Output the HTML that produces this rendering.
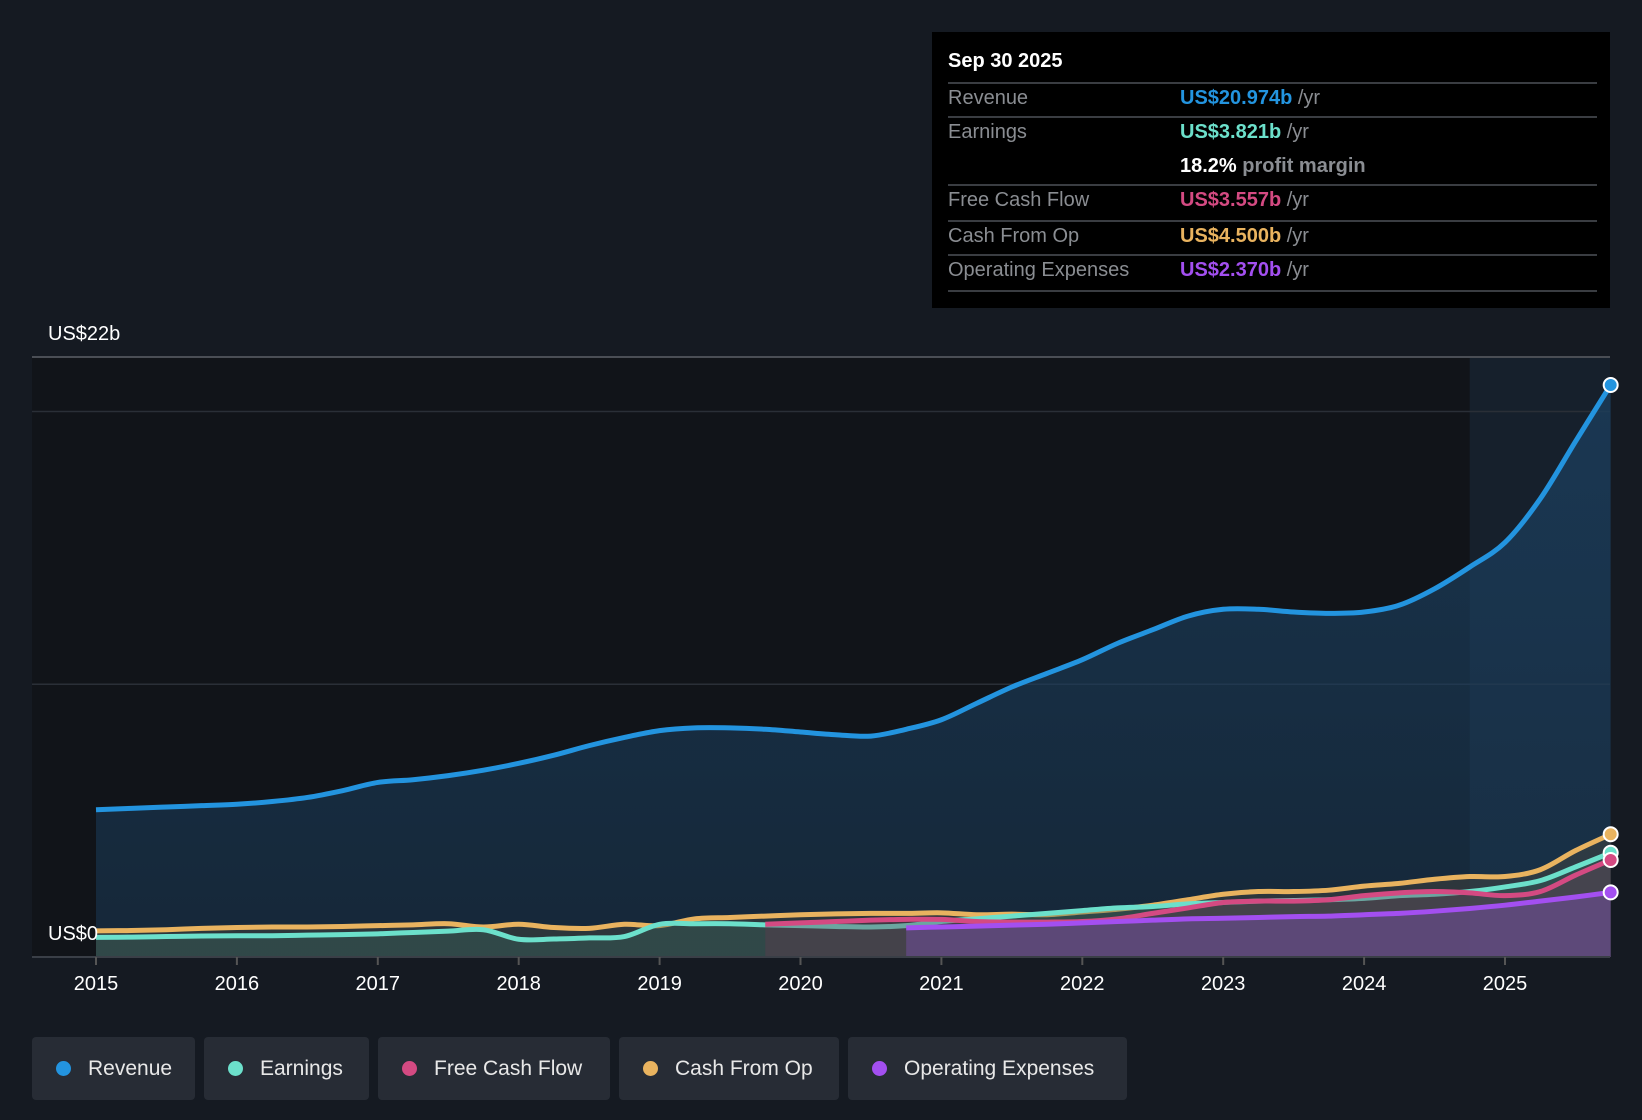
<!DOCTYPE html>
<html><head><meta charset="utf-8">
<style>
body{margin:0;background:#151a22;font-family:"Liberation Sans",sans-serif;}
#wrap{position:relative;width:1642px;height:1120px;overflow:hidden;background:#151a22;}
.tt{position:absolute;left:932px;top:32px;width:678px;height:276px;background:#000;}
.tt div{position:absolute;font-size:20px;}
.sep{position:absolute;left:16px;width:649px;height:2px;background:#3a3d42;}
.lab{left:16px;color:#8a8d92;}
.val{left:248px;color:#8a8d92;}
.leg{position:absolute;top:1037px;height:63px;background:#272c35;border-radius:4px;color:#e8e8e8;font-size:21px;line-height:63px;box-sizing:border-box;padding-left:56px;}
.leg i{position:absolute;left:24px;top:24px;width:15px;height:15px;border-radius:50%;}
</style></head><body>
<div id="wrap">
<svg id="chart" width="1642" height="1120" style="position:absolute;left:0;top:0"></svg>
<div class="tt">
<div style="left:16px;top:18px;color:#fff;font-weight:bold">Sep 30 2025</div>
<div class="sep" style="top:50px"></div>
<div class="lab" style="top:55px">Revenue</div>
<div class="val" style="top:55px"><b style="color:#2394df">US$20.974b</b> /yr</div>
<div class="sep" style="top:84px"></div>
<div class="lab" style="top:89px">Earnings</div>
<div class="val" style="top:89px"><b style="color:#6ce0cb">US$3.821b</b> /yr</div>
<div class="val" style="top:123px"><b style="color:#fff">18.2%</b> <b>profit margin</b></div>
<div class="sep" style="top:152px"></div>
<div class="lab" style="top:157px">Free Cash Flow</div>
<div class="val" style="top:157px"><b style="color:#d44a82">US$3.557b</b> /yr</div>
<div class="sep" style="top:188px"></div>
<div class="lab" style="top:193px">Cash From Op</div>
<div class="val" style="top:193px"><b style="color:#e9b35f">US$4.500b</b> /yr</div>
<div class="sep" style="top:222px"></div>
<div class="lab" style="top:227px">Operating Expenses</div>
<div class="val" style="top:227px"><b style="color:#a34ff0">US$2.370b</b> /yr</div>
<div class="sep" style="top:258px"></div>
</div>
<div class="leg" style="left:32px;width:163px"><i style="background:#2394df"></i>Revenue</div>
<div class="leg" style="left:204px;width:165px"><i style="background:#6ce0cb"></i>Earnings</div>
<div class="leg" style="left:378px;width:232px"><i style="background:#d44a82"></i>Free Cash Flow</div>
<div class="leg" style="left:619px;width:220px"><i style="background:#e9b35f"></i>Cash From Op</div>
<div class="leg" style="left:848px;width:279px"><i style="background:#a34ff0"></i>Operating Expenses</div>
</div>
<script>
const years=[2015,2016,2017,2018,2019,2020,2021,2022,2023,2024,2025];
const revenue=[5.4,5.45,5.5,5.55,5.6,5.7,5.85,6.1,6.4,6.5,6.65,6.85,7.1,7.4,7.75,8.05,8.3,8.4,8.4,8.35,8.25,8.15,8.1,8.35,8.7,9.3,9.9,10.4,10.9,11.5,12.0,12.5,12.75,12.75,12.65,12.6,12.65,12.9,13.5,14.3,15.2,16.8,18.9,20.974];
const earnings=[.72,.73,.75,.77,.78,.78,.8,.82,.85,.9,.95,1.0,.65,.66,.7,.75,1.2,1.22,1.22,1.18,1.15,1.12,1.1,1.15,1.3,1.4,1.5,1.6,1.7,1.8,1.85,1.95,2.0,2.05,2.07,2.1,2.15,2.25,2.3,2.4,2.57,2.8,3.3,3.821];
const cashFromOp=[.96,.97,1.0,1.05,1.08,1.1,1.1,1.12,1.15,1.18,1.22,1.1,1.2,1.08,1.05,1.2,1.15,1.4,1.45,1.5,1.55,1.58,1.6,1.6,1.62,1.55,1.57,1.55,1.65,1.75,1.9,2.1,2.3,2.4,2.4,2.45,2.6,2.7,2.85,2.95,2.95,3.2,3.9,4.5];
const fcfStart=2019.75;
const freeCashFlow=[1.2,1.25,1.3,1.35,1.38,1.38,1.3,1.28,1.28,1.3,1.4,1.6,1.8,2.0,2.05,2.05,2.1,2.25,2.35,2.4,2.35,2.25,2.4,3.0,3.557];
const opexStart=2020.75;
const opex=[1.07,1.1,1.13,1.17,1.2,1.25,1.3,1.35,1.4,1.42,1.45,1.48,1.5,1.55,1.6,1.68,1.78,1.9,2.05,2.2,2.37];
const yTicks=[0,10,20,22];

const svg=document.getElementById('chart');const NS='http://www.w3.org/2000/svg';
const X=t=>96+(t-2015)*140.9;
const Y=v=>957-v*(600/22);
function el(tag,attrs,parent){const e=document.createElementNS(NS,tag);for(const k in attrs)e.setAttribute(k,attrs[k]);(parent||svg).appendChild(e);return e;}
const defs=el('defs',{});
const g=el('linearGradient',{id:'rg',x1:0,y1:0,x2:0,y2:1},defs);
el('stop',{offset:0,'stop-color':'#1b3f5f','stop-opacity':0.75},g);el('stop',{offset:1,'stop-color':'#1b3f5f','stop-opacity':0.45},g);
let r=el('rect',{x:32,y:357,width:X(2024.75)-32,height:600,fill:'#111419'});

r=el('rect',{x:X(2024.75),y:357,width:1610-X(2024.75),height:600,fill:'#16202c'});

yTicks.forEach(v=>{const l=el('line',{x1:32,x2:1610,y1:Y(v),y2:Y(v),stroke:v==22?'#4a4e55':'#2a2f37','stroke-width':v==22?2:1.5});
});
function pts(arr,start){return arr.map((v,i)=>[X(start+i*0.25),Y(v)]);}
function path(p){let d='M'+p[0][0]+','+p[0][1];for(let i=0;i<p.length-1;i++){const p0=p[Math.max(0,i-1)],p1=p[i],p2=p[i+1],p3=p[Math.min(p.length-1,i+2)];
 const c1=[p1[0]+(p2[0]-p0[0])/6,p1[1]+(p2[1]-p0[1])/6],c2=[p2[0]-(p3[0]-p1[0])/6,p2[1]-(p3[1]-p1[1])/6];
 d+=' C'+c1[0]+','+c1[1]+' '+c2[0]+','+c2[1]+' '+p2[0]+','+p2[1];}return d;}
function series(name,arr,start,color,fill,op){
 const p=pts(arr,start);const d=path(p);
 const a=el('path',{d:d+' L'+p[p.length-1][0]+','+Y(0)+' L'+p[0][0]+','+Y(0)+' Z',fill:fill,'fill-opacity':op});
 
 const l=el('path',{d:d,fill:'none',stroke:color,'stroke-width':5,'stroke-linejoin':'round'});
 
 const e=p[p.length-1];
 const c=el('circle',{cx:e[0],cy:e[1],r:7,fill:color,stroke:'#fff','stroke-width':2});
 
}
series('revenue',revenue,2015,'#2394df','url(#rg)',1);
series('cash-from-op',cashFromOp,2015,'#e9b35f','#5a5040',0.35);
series('earnings',earnings,2015,'#6ce0cb','#3a6a60',0.35);
series('free-cash-flow',freeCashFlow,fcfStart,'#d44a82','#6a3a50',0.35);
series('operating-expenses',opex,opexStart,'#a34ff0','#7a4fb0',0.45);
const ax=el('line',{x1:32,x2:1610,y1:957,y2:957,stroke:'#3a3f47','stroke-width':2});

years.forEach(yv=>{const t=el('line',{x1:X(yv),x2:X(yv),y1:957,y2:965,stroke:'#555','stroke-width':2});

const tx=el('text',{x:X(yv),y:990,'text-anchor':'middle',fill:'#fff','font-size':20,'font-family':'Liberation Sans, sans-serif'});tx.textContent=yv;
});
let t1=el('text',{x:48,y:340,fill:'#fff','font-size':20,'font-family':'Liberation Sans, sans-serif'});t1.textContent='US$22b';

let t2=el('text',{x:48,y:940,fill:'#fff','font-size':20,'font-family':'Liberation Sans, sans-serif'});t2.textContent='US$0';

</script>
</body></html>
